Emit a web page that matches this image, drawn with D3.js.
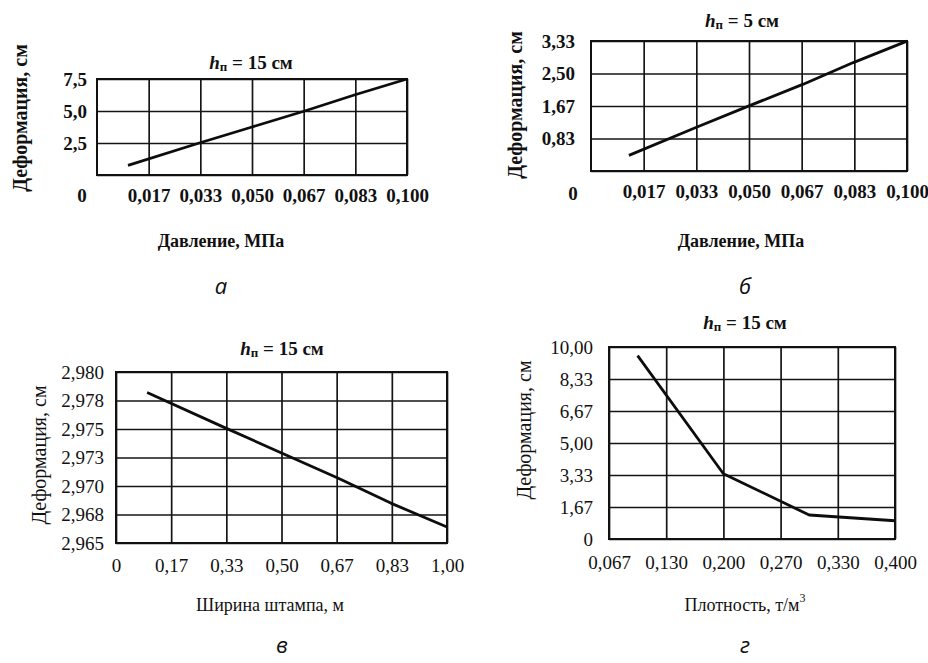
<!DOCTYPE html>
<html>
<head>
<meta charset="utf-8">
<script src="https://cdn.jsdelivr.net/npm/d3@7"></script>
<style>
  html, body { margin: 0; padding: 0; background: #fff; }
  svg { display: block; }
  text { font-family: "Liberation Serif", "Times New Roman", serif; fill: #111; }
  .letter { font-family: "Open Sans", sans-serif; font-style: italic; font-size: 22px; }
</style>
</head>
<body>
<svg id="chart" width="928" height="663"></svg>
<script>
// а: deformation vs pressure, h = 15 cm
const pressureA = [0.010, 0.033, 0.050, 0.067, 0.083, 0.100];
const deformA = [0.75, 2.50, 3.75, 5.00, 6.25, 7.50];

// б: deformation vs pressure, h = 5 cm
const pressureB = [0.012, 0.033, 0.050, 0.067, 0.083, 0.100];
const deformB = [0.40, 1.11, 1.67, 2.22, 2.78, 3.33];

// в: deformation vs stamp width
const stampWidth = [0.094, 0.33, 0.50, 0.67, 0.83, 1.00];
const deformC = [2.9782, 2.9751, 2.9729, 2.9707, 2.9685, 2.9664];

// г: deformation vs density
const density = [0.100, 0.200, 0.300, 0.400];
const deformD = [9.55, 3.40, 1.25, 0.95];

// tick values and labels
const pressureTicks = [0.01667, 0.03333, 0.05, 0.06667, 0.08333, 0.1];
const pressureLabels = ['0,017', '0,033', '0,050', '0,067', '0,083', '0,100'];
const deformTicksA = [0, 2.5, 5, 7.5];
const deformLabelsA = ['', '2,5', '5,0', '7,5'];
const deformTicksB = [0, 0.8333, 1.6667, 2.5, 3.3333];
const deformLabelsB = ['', '0,83', '1,67', '2,50', '3,33'];
const widthTicks = [0, 0.16667, 0.33333, 0.5, 0.66667, 0.83333, 1];
const widthLabels = ['0', '0,17', '0,33', '0,50', '0,67', '0,83', '1,00'];
const deformTicksC = [2.965, 2.9675, 2.97, 2.9725, 2.975, 2.9775, 2.98];
const deformLabelsC = ['2,965', '2,968', '2,970', '2,973', '2,975', '2,978', '2,980'];
const densityTicks = [0.06667, 0.13333, 0.2, 0.26667, 0.33333, 0.4];
const densityLabels = ['0,067', '0,130', '0,200', '0,270', '0,330', '0,400'];
const deformTicksD = [0, 1.6667, 3.3333, 5, 6.6667, 8.3333, 10];
const deformLabelsD = ['0', '1,67', '3,33', '5,00', '6,67', '8,33', '10,00'];

const svg = d3.select('#chart');

const panels = [
  {
    xs: pressureA, ys: deformA, xDomain: [0, 0.1], yDomain: [0, 7.5],
    xTicks: pressureTicks, xLabels: pressureLabels, yTicks: deformTicksA, yLabels: deformLabelsA,
    box: { left: 97, right: 407, top: 79, bottom: 175 }, xPad: 14, yPad: 10, origin: [82, 195],
    weight: 'bold', title: ['15'], titlePos: [251, 62], yTitlePos: [20, 118],
    xTitle: 'Давление, МПа', xTitlePos: [221, 241], letter: 'а', letterPos: [221, 285],
  },
  {
    xs: pressureB, ys: deformB, xDomain: [0, 0.1], yDomain: [0, 3.3333],
    xTicks: pressureTicks, xLabels: pressureLabels, yTicks: deformTicksB, yLabels: deformLabelsB,
    box: { left: 591, right: 907, top: 41, bottom: 171 }, xPad: 14, yPad: 16, origin: [573, 193],
    weight: 'bold', title: ['5'], titlePos: [742, 20], yTitlePos: [515, 105],
    xTitle: 'Давление, МПа', xTitlePos: [741, 241], letter: 'б', letterPos: [745, 285],
  },
  {
    xs: stampWidth, ys: deformC, xDomain: [0, 1], yDomain: [2.965, 2.98],
    xTicks: widthTicks, xLabels: widthLabels, yTicks: deformTicksC, yLabels: deformLabelsC,
    box: { left: 116, right: 447, top: 372, bottom: 543 }, xPad: 16, yPad: 12, origin: null,
    weight: 'normal', title: ['15'], titlePos: [282, 348], yTitlePos: [39, 455],
    xTitle: 'Ширина штампа, м', xTitlePos: [270, 605], letter: 'в', letterPos: [282, 644],
  },
  {
    xs: density, ys: deformD, xDomain: [0.06667, 0.4], yDomain: [0, 10],
    xTicks: densityTicks, xLabels: densityLabels, yTicks: deformTicksD, yLabels: deformLabelsD,
    box: { left: 609, right: 895, top: 347, bottom: 539 }, xPad: 17, yPad: 16, origin: null,
    weight: 'normal', title: ['15'], titlePos: [745, 322], yTitlePos: [524, 430],
    xTitle: 'Плотность, т/м', sup: '3', xTitlePos: [745, 605], letter: 'г', letterPos: [745, 644],
  },
];

function drawPanel(p) {
  const { left, right, top, bottom } = p.box;
  const g = svg.append('g');

  const x = d3.scaleLinear().domain(p.xDomain).range([left, right]);
  const y = d3.scaleLinear().domain(p.yDomain).range([bottom, top]);

  // gridlines
  g.append('g')
    .attr('transform', `translate(0,${bottom})`)
    .call(d3.axisBottom(x).tickValues(p.xTicks).tickSize(-(bottom - top)).tickFormat(''))
    .call((s) => s.select('.domain').remove())
    .selectAll('line')
    .attr('stroke', '#151515')
    .attr('stroke-width', 1.7);

  g.append('g')
    .attr('transform', `translate(${left},0)`)
    .call(d3.axisLeft(y).tickValues(p.yTicks).tickSize(-(right - left)).tickFormat(''))
    .call((s) => s.select('.domain').remove())
    .selectAll('line')
    .attr('stroke', '#151515')
    .attr('stroke-width', 1.7);

  g.append('rect')
    .attr('x', left)
    .attr('y', top)
    .attr('width', right - left)
    .attr('height', bottom - top)
    .attr('fill', 'none')
    .attr('stroke', '#111')
    .attr('stroke-width', 2);

  // tick labels
  const xAxis = g.append('g')
    .attr('transform', `translate(0,${bottom})`)
    .call(d3.axisBottom(x).tickValues(p.xTicks).tickSize(0).tickPadding(p.xPad)
      .tickFormat((d, i) => p.xLabels[i]));
  xAxis.select('.domain').remove();
  xAxis.selectAll('text')
    .attr('font-size', 19)
    .attr('font-weight', p.weight)
    .attr('fill', '#111');

  const yAxis = g.append('g')
    .attr('transform', `translate(${left},0)`)
    .call(d3.axisLeft(y).tickValues(p.yTicks).tickSize(0).tickPadding(p.yPad)
      .tickFormat((d, i) => p.yLabels[i]));
  yAxis.select('.domain').remove();
  yAxis.selectAll('text')
    .attr('font-size', 19)
    .attr('font-weight', p.weight)
    .attr('fill', '#111');
  xAxis.attr('font-family', null);
  yAxis.attr('font-family', null);

  if (p.origin) {
    g.append('text')
      .attr('x', p.origin[0])
      .attr('y', p.origin[1])
      .attr('text-anchor', 'middle')
      .attr('dominant-baseline', 'central')
      .attr('font-size', 19)
      .attr('font-weight', p.weight)
      .text('0');
  }

  // data line
  const line = d3.line()
    .x((d, i) => x(p.xs[i]))
    .y((d) => y(d));

  g.append('path')
    .datum(p.ys)
    .attr('d', line)
    .attr('fill', 'none')
    .attr('stroke', '#0d0d0d')
    .attr('stroke-width', 2.8)
    .attr('stroke-linejoin', 'round');

  // title h_п = .. см
  const t = g.append('text')
    .attr('x', p.titlePos[0])
    .attr('y', p.titlePos[1])
    .attr('text-anchor', 'middle')
    .attr('dominant-baseline', 'central')
    .attr('font-size', 19)
    .attr('font-weight', 'bold');
  t.append('tspan').attr('font-style', 'italic').text('h');
  t.append('tspan').attr('font-size', 13).attr('dy', 4).text('п');
  t.append('tspan').attr('dy', -4).text(` = ${p.title[0]} см`);

  // y title
  g.append('text')
    .attr('transform', `translate(${p.yTitlePos[0]},${p.yTitlePos[1]}) rotate(-90)`)
    .attr('text-anchor', 'middle')
    .attr('dominant-baseline', 'central')
    .attr('font-size', 20)
    .attr('font-weight', p.weight)
    .text('Деформация, см');

  // x title
  const xt = g.append('text')
    .attr('x', p.xTitlePos[0])
    .attr('y', p.xTitlePos[1])
    .attr('text-anchor', 'middle')
    .attr('dominant-baseline', 'central')
    .attr('font-size', 18)
    .attr('font-weight', p.weight)
    .text(p.xTitle);
  if (p.sup) {
    xt.append('tspan').attr('font-size', 12).attr('dy', -7).text(p.sup);
  }

  g.append('text')
    .attr('class', 'letter')
    .attr('x', p.letterPos[0])
    .attr('y', p.letterPos[1])
    .attr('text-anchor', 'middle')
    .attr('dominant-baseline', 'central')
    .text(p.letter);
}

panels.forEach(drawPanel);
</script>
</body>
</html>
